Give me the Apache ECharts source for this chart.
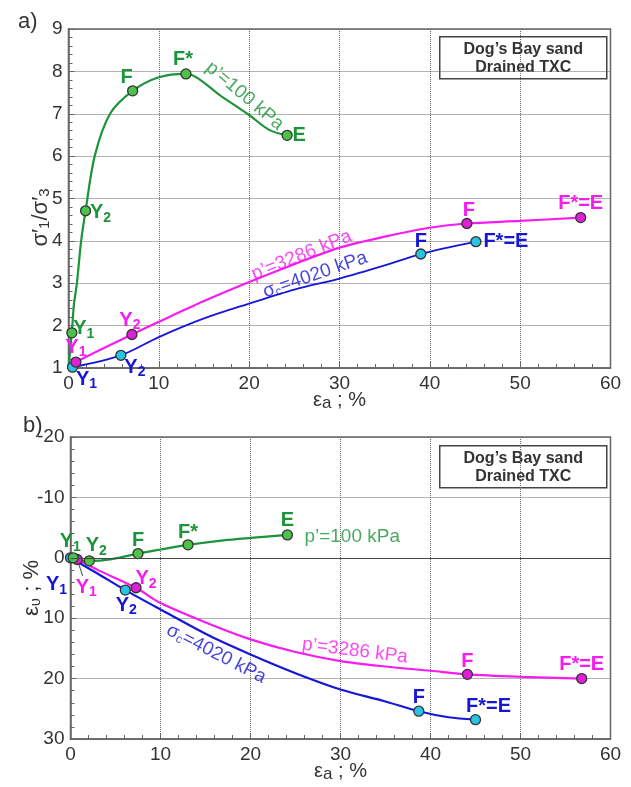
<!DOCTYPE html>
<html>
<head>
<meta charset="utf-8">
<script src="https://cdn.jsdelivr.net/npm/echarts@6/dist/echarts.min.js"></script>
<style>
  html, body { margin: 0; padding: 0; background: #fff; }
  #main { width: 631px; height: 787px; }
</style>
</head>
<body>
<div id="main"></div>
<script>
// ---- a) stress ratio vs axial strain ----
const greenCurveA = [[0, 1], [0.37, 1.85], [0.6, 2.5], [0.93, 3.0], [1.4, 4.0], [1.89, 4.71], [2.9, 6.0], [4.6, 7.0], [7.1, 7.54], [10, 7.86], [13, 7.94], [17, 7.4], [20, 6.97], [22.2, 6.62], [24.2, 6.49]];
const magentaCurveA = [[0, 1], [0.82, 1.14], [7.02, 1.79], [10, 2.09], [15, 2.58], [20, 3.03], [25, 3.45], [30, 3.84], [35, 4.1], [40, 4.31], [44.1, 4.41], [50, 4.47], [56.7, 4.55]];
const blueCurveA = [[0.44, 1.02], [5.8, 1.3], [10, 1.73], [15, 2.17], [20, 2.52], [25, 2.85], [30, 3.11], [35, 3.42], [39, 3.69], [45.1, 3.98]];

const greenPtsA = [[0.37, 1.83], [1.89, 4.71], [7.1, 7.54], [13, 7.94], [24.2, 6.49]];
const greenNamesA = ['Y1', 'Y2', 'F', 'F*', 'E'];
const magentaPtsA = [[0.82, 1.14], [7.02, 1.79], [44.1, 4.41], [56.7, 4.55]];
const magentaNamesA = ['Y1', 'Y2', 'F', 'F*=E'];
const bluePtsA = [[0.44, 1.02], [5.8, 1.3], [39, 3.69], [45.1, 3.98]];
const blueNamesA = ['Y1', 'Y2', 'F', 'F*=E'];

// ---- b) volumetric strain vs axial strain ----
const greenCurveB = [[0, 0], [0.3, 0], [1, 0.4], [2.09, 0.5], [4.4, 0.25], [7.5, -0.7], [10, -1.37], [13.06, -2.15], [17, -2.9], [20, -3.3], [24.1, -3.79]];
const magentaCurveB = [[0, 0], [0.76, 0.28], [3, 2.0], [7.28, 4.96], [10, 7.5], [15.5, 11.0], [20, 13.5], [25, 15.6], [30, 17.1], [35, 18.0], [40, 18.7], [44.1, 19.3], [50, 19.7], [56.8, 20.0]];
const blueCurveB = [[0, 0], [3, 2.6], [6.09, 5.35], [10, 8.55], [15.5, 12.95], [20, 16.0], [25, 19.1], [30, 21.8], [34.8, 23.7], [38.7, 25.4], [42, 26.4], [45, 26.8]];

const greenPtsB = [[0.3, 0], [2.09, 0.5], [7.5, -0.7], [13.06, -2.15], [24.1, -3.79]];
const greenNamesB = ['Y1', 'Y2', 'F', 'F*', 'E'];
const magentaPtsB = [[0.76, 0.28], [7.28, 4.96], [44.1, 19.3], [56.8, 20.0]];
const magentaNamesB = ['Y1', 'Y2', 'F', 'F*=E'];
const bluePtsB = [[0, 0], [6.09, 5.35], [38.7, 25.4], [45, 26.8]];
const blueNamesB = ['Y1', 'Y2', 'F', 'F*=E'];

// leader lines for the Y1 labels in b)
const leaderBlueB = [[0, 0], [-0.6, 3.0]];
const leaderMagentaB = [[0.76, 0.28], [1.35, 3.0]];

// label offsets (px, label centre minus marker centre)
const offGreenA = [[12, -4], [15, 2], [-6, -13], [-3, -14], [12, 0]];
const offMagentaA = [[0, -15], [-2, -14], [2, -13], [0, -14]];
const offBlueA = [[14, 12], [14, 12], [0, -13], [30, 0]];
const offGreenB = [[-3, -16], [7, -15], [0, -13], [0, -12], [0, -14]];
const offMagentaB = [[9, 28], [10, -9], [0, -13], [0, -14]];
const offBlueB = [[-14, 27], [1, 15], [0, -14], [13, -13]];

const GREEN = '#1c9439', GREEN_FILL = '#4cc24a';
const MAG = '#f61cf0', MAG_FILL = '#e020d8';
const BLUE = '#1616d6', BLUE_FILL = '#28c4e6';
const FONT = 'Liberation Sans, Arial, sans-serif';

function curve(data, color, gi, width) {
    return {
        type: 'line', xAxisIndex: gi, yAxisIndex: gi, data: data,
        smooth: 0.3, showSymbol: false, silent: true,
        lineStyle: { color: color, width: width || 2.2 }, z: 2
    };
}

function markers(pts, names, offs, fill, textColor, gi) {
    return {
        type: 'scatter', xAxisIndex: gi, yAxisIndex: gi, silent: true, z: 4,
        symbolSize: 10,
        itemStyle: { color: fill, borderColor: '#333', borderWidth: 1.3, opacity: 1 },
        data: pts.map(function (p, i) {
            return {
                value: p, name: names[i],
                label: {
                    show: true, position: 'inside', offset: offs[i],
                    color: textColor, fontSize: 20, fontWeight: 'bold', fontFamily: FONT,
                    formatter: function (prm) { return prm.name.replace(/^Y(\d)$/, 'Y{s|$1}'); },
                    rich: { s: { fontSize: 14, fontWeight: 'bold', color: textColor, padding: [10, 0, 0, 0] } }
                }
            };
        })
    };
}

function note(x, y, text, color, rot, gi) {
    return {
        type: 'scatter', xAxisIndex: gi, yAxisIndex: gi, silent: true, z: 5,
        symbolSize: 1, itemStyle: { color: 'transparent' },
        data: [{ value: [x, y], name: text }],
        label: {
            show: true, position: 'inside', rotate: rot, color: color, fontSize: 19, fontFamily: FONT,
            formatter: function (prm) { return prm.name; },
            rich: { s: { fontSize: 12, color: color, padding: [8, 0, 0, 0] } }
        }
    };
}

function leader(data, gi) {
    return {
        type: 'line', xAxisIndex: gi, yAxisIndex: gi, data: data, clip: false,
        showSymbol: false, silent: true, lineStyle: { color: '#444', width: 1 }, z: 3
    };
}

function xAx(gi) {
    return {
        type: 'value', gridIndex: gi, min: 0, max: 60, interval: 10,
        name: 'ε{s|a} ; %', nameLocation: 'middle', nameGap: 21, nameMoveOverlap: false,
        nameTextStyle: { fontSize: 20, color: '#333', fontFamily: FONT,
            rich: { s: { fontSize: 17, color: '#333', padding: [6, 0, 0, 0] } } },
        axisLine: { onZero: false, lineStyle: { color: '#666', width: 1.5 } },
        axisTick: { inside: true, length: 6, lineStyle: { color: '#666' } },
        minorTick: { show: true, splitNumber: 5, length: 4, lineStyle: { color: '#666' } },
        splitLine: { show: true, lineStyle: { type: 'dotted', color: '#666' } },
        axisLabel: { fontSize: 19, color: '#333', margin: 6, fontFamily: FONT }
    };
}

function yAx(gi, min, max, step, name, gap, inverse, pad) {
    return {
        type: 'value', gridIndex: gi, min: min, max: max, interval: step, inverse: !!inverse,
        name: name, nameLocation: 'middle', nameGap: gap, nameMoveOverlap: false,
        nameTextStyle: { fontSize: 22, color: '#333', fontFamily: FONT, padding: pad || 0,
            rich: { s: { fontSize: 15, color: '#333', padding: [8, 0, 0, 0] } } },
        axisLine: { onZero: false, lineStyle: { color: '#666', width: 1.5 } },
        axisTick: { inside: true, length: 6, lineStyle: { color: '#666' } },
        minorTick: { show: true, splitNumber: 5, length: 4, lineStyle: { color: '#666' } },
        splitLine: { show: true, lineStyle: { type: 'dotted', color: '#666' } },
        axisLabel: { fontSize: 19, color: '#333', margin: 6, fontFamily: FONT }
    };
}

function legendBox(top) {
    return {
        type: 'group', left: 439, top: top, z: 100,
        children: [{
            type: 'rect', shape: { x: 0, y: 0, width: 167, height: 42 },
            style: { fill: '#fff', stroke: '#444', lineWidth: 1.5 }
        }, {
            type: 'text', x: 83.5, y: 4,
            style: { text: 'Dog’s Bay sand\nDrained TXC', textAlign: 'center', fill: '#333',
                font: 'bold 16px "Liberation Sans", Arial, sans-serif', lineHeight: 18 }
        }]
    };
}

const chart = echarts.init(document.getElementById('main'), null, { renderer: 'canvas' });

const lineZero = curve(greenCurveB, GREEN, 1);
lineZero.markLine = {
    silent: true, symbol: 'none', label: { show: false },
    lineStyle: { color: '#444', type: 'solid', width: 1.2 },
    data: [{ yAxis: 0 }]
};

chart.setOption({
    backgroundColor: '#fff',
    animation: false,
    grid: [
        { left: 68.5, top: 29, width: 542, height: 339, show: true, borderColor: '#666', borderWidth: 1.5 },
        { left: 70.5, top: 437, width: 540, height: 302, show: true, borderColor: '#666', borderWidth: 1.5 }
    ],
    xAxis: [xAx(0), xAx(1)],
    yAxis: [
        yAx(0, 1, 9, 1, 'σ′{s|1}/σ′{s|3}', 16, false, [0, 38, 0, 0]),
        yAx(1, -20, 30, 10, 'ε{s|υ} ; %', 27, true)
    ],
    graphic: [
        { type: 'text', left: 18, top: 11, style: { text: 'a)', fill: '#333', font: '22px "Liberation Sans", Arial, sans-serif' } },
        { type: 'text', left: 23, top: 415, style: { text: 'b)', fill: '#333', font: '22px "Liberation Sans", Arial, sans-serif' } },
        legendBox(36),
        legendBox(445)
    ],
    series: [
        curve(greenCurveA, GREEN, 0),
        curve(magentaCurveA, MAG, 0),
        curve(blueCurveA, BLUE, 0, 1.8),
        markers(bluePtsA, blueNamesA, offBlueA, BLUE_FILL, BLUE, 0),
        markers(magentaPtsA, magentaNamesA, offMagentaA, MAG_FILL, MAG, 0),
        markers(greenPtsA, greenNamesA, offGreenA, GREEN_FILL, GREEN, 0),
        note(19.5, 7.42, 'p’=100 kPa', GREEN, -40, 0),
        note(25.8, 3.66, 'p’=3286 kPa', MAG, 22, 0),
        note(27.3, 3.2, 'σ{s|c}=4020 kPa', BLUE, 19, 0),

        lineZero,
        curve(magentaCurveB, MAG, 1),
        curve(blueCurveB, BLUE, 1),
        leader(leaderBlueB, 1),
        leader(leaderMagentaB, 1),
        markers(bluePtsB, blueNamesB, offBlueB, BLUE_FILL, BLUE, 1),
        markers(magentaPtsB, magentaNamesB, offMagentaB, MAG_FILL, MAG, 1),
        markers(greenPtsB, greenNamesB, offGreenB, GREEN_FILL, GREEN, 1),
        note(31.3, -3.5, 'p’=100 kPa', GREEN, 0, 1),
        note(31.6, 15.4, 'p’=3286 kPa', MAG, -7, 1),
        note(16.2, 15.9, 'σ{s|c}=4020 kPa', BLUE, -27, 1)
    ]
});
</script>
</body>
</html>
